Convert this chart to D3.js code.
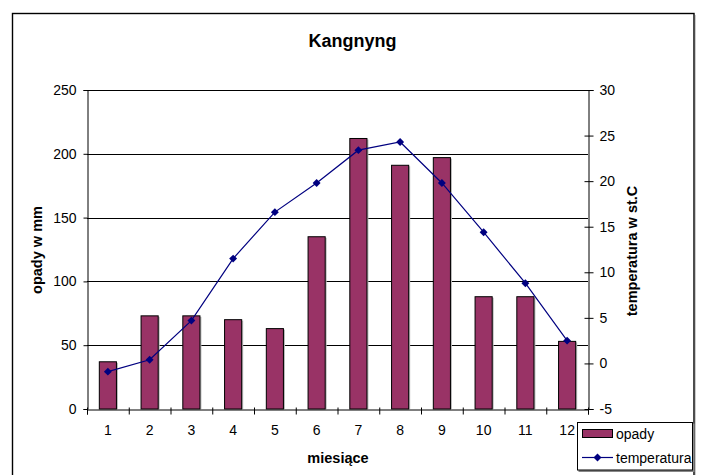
<!DOCTYPE html>
<html><head><meta charset="utf-8">
<script src="https://cdn.jsdelivr.net/npm/d3@7"></script>
<style>
html,body{margin:0;padding:0;background:#fff;}
svg text{font-family:"Liberation Sans",Arial,sans-serif;fill:#000;}
</style></head>
<body>
<svg id="c" width="705" height="475"></svg>
<script>
const months = ["1","2","3","4","5","6","7","8","9","10","11","12"];
const opady = [37, 73, 73, 70, 63, 135, 212, 191, 197, 88, 88, 53];
const temperatura = [-0.9, 0.4, 4.7, 11.5, 16.6, 19.8, 23.4, 24.3, 19.8, 14.4, 8.8, 2.5];
const leftTicks = [0, 50, 100, 150, 200, 250];
const rightTicks = [-5, 0, 5, 10, 15, 20, 25, 30];
const title = "Kangnyng";
const yLeftTitle = "opady w mm";
const yRightTitle = "temperatura w st.C";
const xTitle = "miesiące";
const seriesNames = ["opady", "temperatura"];

const svg = d3.select("#c");
const L = 87, R = 588, T = 90, B = 409;
const barColor = "#993366", lineColor = "#000080";
const tickFont = 14;

const x = d3.scaleBand().domain(months).range([L, R]).paddingInner(0).paddingOuter(0);
const xb = d3.scaleLinear().domain([0, months.length]).range([L, R]);
const yL = d3.scaleLinear().domain([0, 250]).range([B, T]);
const yR = d3.scaleLinear().domain([-5, 30]).range([B, T]);

// chart border (with faint shadow)
svg.append("line").attr("x1", 695.5).attr("x2", 695.5).attr("y1", 15).attr("y2", 475).attr("stroke", "#ccc").attr("stroke-width", 1);
svg.append("rect").attr("x", 12.5).attr("y", 13.5).attr("width", 681.5).attr("height", 480)
  .attr("fill", "none").attr("stroke", "#000").attr("stroke-width", 1.4);

// title
svg.append("text").attr("x", 352.5).attr("y", 46.5).attr("text-anchor", "middle")
  .attr("font-size", 18).attr("font-weight", "bold").text(title);

// gridlines
svg.append("g").selectAll("line").data(leftTicks.filter(d => d > 0)).join("line")
  .attr("x1", L).attr("x2", R)
  .attr("y1", d => Math.round(yL(d)) + 0.5).attr("y2", d => Math.round(yL(d)) + 0.5)
  .attr("stroke", "#000").attr("stroke-width", 1);

// bars (shadow + bar)
const bw = x.bandwidth() * 0.41;
svg.append("g").selectAll("rect").data(opady).join("rect")
  .attr("x", (d, i) => x(months[i]) + (x.bandwidth() - bw) / 2 + 1.5)
  .attr("y", d => yL(d) + 1)
  .attr("width", bw).attr("height", d => B - yL(d) - 1)
  .attr("fill", "#b8b8b8");
svg.append("g").selectAll("rect").data(opady).join("rect")
  .attr("x", (d, i) => x(months[i]) + (x.bandwidth() - bw) / 2)
  .attr("y", d => yL(d))
  .attr("width", bw).attr("height", d => B - yL(d))
  .attr("fill", barColor).attr("stroke", "#000").attr("stroke-width", 1);

// left axis
const gL = svg.append("g").attr("transform", `translate(${L + 0.5},0)`)
  .call(d3.axisLeft(yL).tickValues(leftTicks).tickFormat(d => String(d)).tickSize(4).tickPadding(7));
gL.select(".domain").attr("stroke", "#000");
gL.selectAll(".tick line").attr("stroke", "#000");
gL.selectAll(".tick text").attr("font-size", tickFont).attr("font-family", "Liberation Sans, Arial");

// right axis
const gR = svg.append("g").attr("transform", `translate(${R + 0.5},0)`)
  .call(d3.axisRight(yR).tickValues(rightTicks).tickFormat(d => String(d)).tickSize(5).tickPadding(6));
gR.select(".domain").attr("stroke", "#000");
gR.selectAll(".tick line").attr("x1", -4).attr("stroke", "#000");
gR.selectAll(".tick text").attr("font-size", tickFont).attr("font-family", "Liberation Sans, Arial");

// bottom axis: boundary ticks
const gB = svg.append("g").attr("transform", `translate(0,${B + 0.5})`)
  .call(d3.axisBottom(xb).tickValues(d3.range(0, months.length + 1)).tickFormat("").tickSize(5));
gB.select(".domain").attr("stroke", "#000");
gB.selectAll(".tick line").attr("y1", -2).attr("stroke", "#000");
// bottom labels
const gBL = svg.append("g").attr("transform", `translate(0,${B})`)
  .call(d3.axisBottom(x).tickSize(0).tickPadding(16));
gBL.select(".domain").remove();
gBL.selectAll(".tick text").attr("font-size", tickFont).attr("font-family", "Liberation Sans, Arial");

// temperature line
const line = d3.line().x((d, i) => x(months[i]) + x.bandwidth() / 2).y(d => yR(d));
svg.append("path").datum(temperatura).attr("d", line)
  .attr("fill", "none").attr("stroke", lineColor).attr("stroke-width", 1.2);
const diamond = d3.symbol().type(d3.symbolDiamond2).size(40);
svg.append("g").selectAll("path").data(temperatura).join("path")
  .attr("transform", (d, i) => `translate(${x(months[i]) + x.bandwidth() / 2},${yR(d)})`)
  .attr("d", diamond).attr("fill", lineColor);

// axis titles
svg.append("text").attr("transform", `translate(37,250) rotate(-90)`)
  .attr("text-anchor", "middle").attr("dominant-baseline", "central")
  .attr("font-size", 14.5).attr("font-weight", "bold").text(yLeftTitle);
svg.append("text").attr("transform", `translate(631.5,251) rotate(-90)`)
  .attr("text-anchor", "middle").attr("dominant-baseline", "central")
  .attr("font-size", 14.5).attr("font-weight", "bold").text(yRightTitle);
svg.append("text").attr("x", 338).attr("y", 463).attr("text-anchor", "middle")
  .attr("font-size", 14.5).attr("font-weight", "bold").text(xTitle);

// legend
const lg = svg.append("g");
lg.append("rect").attr("x", 578.5).attr("y", 423.5).attr("width", 116).attr("height", 48.5).attr("fill", "#888");
lg.append("rect").attr("x", 577.5).attr("y", 422.5).attr("width", 115).attr("height", 47.5)
  .attr("fill", "#fff").attr("stroke", "#000").attr("stroke-width", 1);
lg.append("rect").attr("x", 582.5).attr("y", 429.5).attr("width", 30).attr("height", 8)
  .attr("fill", barColor).attr("stroke", "#000").attr("stroke-width", 1);
lg.append("text").attr("x", 616).attr("y", 433.5).attr("dominant-baseline", "central")
  .attr("font-size", tickFont).text(seriesNames[0]);
lg.append("line").attr("x1", 582).attr("x2", 613).attr("y1", 457.5).attr("y2", 457.5)
  .attr("stroke", lineColor).attr("stroke-width", 1.2);
lg.append("path").attr("transform", "translate(597.5,457.5)").attr("d", diamond).attr("fill", lineColor);
lg.append("text").attr("x", 616).attr("y", 457.5).attr("dominant-baseline", "central")
  .attr("font-size", tickFont).text(seriesNames[1]);
</script>
</body></html>
